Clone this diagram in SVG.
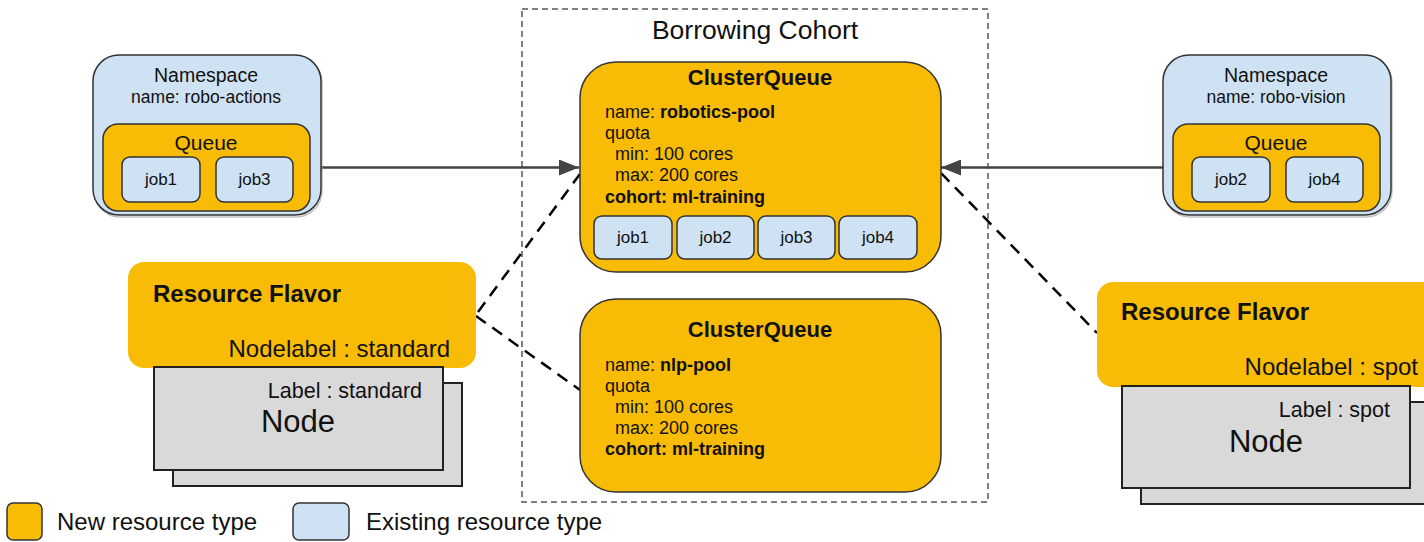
<svg xmlns="http://www.w3.org/2000/svg" width="1424" height="542" viewBox="0 0 1424 542">
  <style>
    text { font-family: "Liberation Sans", Arial, sans-serif; fill: #111; }
    .new { fill: #f9bc06; stroke: #333; stroke-width: 1.5; }
    .flavor { fill: #f9bc06; stroke: none; }
    .old { fill: #cfe2f3; stroke: #333; stroke-width: 1.5; }
    .shadow { fill: none; stroke: #9a9a9a; stroke-width: 1.5; opacity: 0.6; }
    .node { fill: #d9d9d9; stroke: #222; stroke-width: 2; }
    .cohort { fill: none; stroke: #555; stroke-width: 1.5; stroke-dasharray: 6 4; }
    .flow { fill: none; stroke: #434343; stroke-width: 2.5; }
    .link { fill: none; stroke: #000; stroke-width: 2.5; stroke-dasharray: 12 8; }
    .c { text-anchor: middle; }
    .e { text-anchor: end; }
    .b { font-weight: bold; }
    .ns { font-size: 19.5px; }
    .nsn { font-size: 17.5px; }
    .q { font-size: 21px; }
    .job { font-size: 17px; text-anchor: middle; }
    .cqt { font-size: 22px; font-weight: bold; text-anchor: middle; }
    .cq { font-size: 18px; }
    .legend { font-size: 24px; }
  </style>
  <defs>
    <marker id="arrow" markerUnits="userSpaceOnUse" markerWidth="22" markerHeight="16" refX="20" refY="8" orient="auto">
      <path d="M0,0 L20,8 L0,16 Z" fill="#434343"/>
    </marker>
  </defs>

  <!-- cohort boundary -->
  <g id="cohort">
    <rect class="cohort" x="522" y="9" width="466" height="493"/>
    <text class="c" x="755" y="39" font-size="26.5">Borrowing Cohort</text>
  </g>

  <!-- connectors -->
  <g id="connectors">
    <line class="flow" x1="310" y1="167.5" x2="579" y2="167.5" marker-end="url(#arrow)"/>
    <line class="flow" x1="1163" y1="167.5" x2="941" y2="167.5" marker-end="url(#arrow)"/>
    <line class="link" x1="478" y1="312" x2="580" y2="174"/>
    <line class="link" x1="476" y1="316" x2="580" y2="390"/>
    <line class="link" x1="941" y1="173" x2="1097" y2="333"/>
  </g>

  <!-- namespace robo-actions -->
  <g id="ns-robo-actions">
    <rect class="shadow" x="94" y="57" width="228" height="160" rx="26"/>
    <rect class="old" x="93" y="55" width="228" height="160" rx="26"/>
    <text class="c ns" x="206" y="82">Namespace</text>
    <text class="c nsn" x="206" y="103">name: robo-actions</text>
    <rect class="new" x="103" y="124" width="207" height="87" rx="15"/>
    <text class="c q" x="206" y="150">Queue</text>
    <rect class="old" x="122" y="157" width="78" height="45" rx="8"/>
    <text class="job" x="161" y="185">job1</text>
    <rect class="old" x="216" y="157" width="77" height="45" rx="8"/>
    <text class="job" x="254.5" y="185">job3</text>
  </g>

  <!-- namespace robo-vision -->
  <g id="ns-robo-vision">
    <rect class="shadow" x="1164" y="57" width="228" height="160" rx="26"/>
    <rect class="old" x="1163" y="55" width="228" height="160" rx="26"/>
    <text class="c ns" x="1276" y="82">Namespace</text>
    <text class="c nsn" x="1276" y="103">name: robo-vision</text>
    <rect class="new" x="1173" y="124" width="207" height="87" rx="15"/>
    <text class="c q" x="1276" y="150">Queue</text>
    <rect class="old" x="1192" y="157" width="78" height="45" rx="8"/>
    <text class="job" x="1231" y="185">job2</text>
    <rect class="old" x="1286" y="157" width="77" height="45" rx="8"/>
    <text class="job" x="1324.5" y="185">job4</text>
  </g>

  <!-- cluster queue robotics-pool -->
  <g id="cq-robotics-pool">
    <rect class="new" x="580" y="62" width="361" height="210" rx="36"/>
    <text class="cqt" x="760" y="85">ClusterQueue</text>
    <text class="cq" x="605" y="118">name: <tspan class="b">robotics-pool</tspan></text>
    <text class="cq" x="605" y="139">quota</text>
    <text class="cq" x="615" y="160">min: 100 cores</text>
    <text class="cq" x="615" y="181">max: 200 cores</text>
    <text class="cq b" x="605" y="202.5">cohort: ml-training</text>
    <rect class="old" x="594" y="216" width="78" height="43" rx="8"/>
    <text class="job" x="633" y="243">job1</text>
    <rect class="old" x="677" y="216" width="77" height="43" rx="8"/>
    <text class="job" x="715.5" y="243">job2</text>
    <rect class="old" x="758" y="216" width="77" height="43" rx="8"/>
    <text class="job" x="796.5" y="243">job3</text>
    <rect class="old" x="839" y="216" width="78" height="43" rx="8"/>
    <text class="job" x="878" y="243">job4</text>
  </g>

  <!-- cluster queue nlp-pool -->
  <g id="cq-nlp-pool">
    <rect class="new" x="580" y="299" width="361" height="193" rx="36"/>
    <text class="cqt" x="760" y="337">ClusterQueue</text>
    <text class="cq" x="605" y="371">name: <tspan class="b">nlp-pool</tspan></text>
    <text class="cq" x="605" y="392">quota</text>
    <text class="cq" x="615" y="413">min: 100 cores</text>
    <text class="cq" x="615" y="434">max: 200 cores</text>
    <text class="cq b" x="605" y="455">cohort: ml-training</text>
  </g>

  <!-- resource flavor standard with its nodes -->
  <g id="flavor-standard">
    <rect class="flavor" x="128" y="262" width="348" height="106" rx="16"/>
    <text class="b" x="153" y="302" font-size="24">Resource Flavor</text>
    <text class="e" x="450" y="357" font-size="24">Nodelabel : standard</text>
    <rect class="node" x="173" y="383" width="289" height="103"/>
    <rect class="node" x="154" y="367" width="289" height="103"/>
    <text class="e" x="422" y="398" font-size="21.5">Label : standard</text>
    <text class="c" x="298" y="432" font-size="31">Node</text>
  </g>

  <!-- resource flavor spot with its nodes -->
  <g id="flavor-spot">
    <rect class="flavor" x="1097" y="282" width="345" height="105" rx="16"/>
    <text class="b" x="1121" y="320" font-size="24">Resource Flavor</text>
    <text class="e" x="1418" y="375" font-size="24">Nodelabel : spot</text>
    <rect class="node" x="1141" y="402" width="289" height="102"/>
    <rect class="node" x="1122" y="386" width="288" height="102"/>
    <text class="e" x="1390" y="417" font-size="21.5">Label : spot</text>
    <text class="c" x="1266" y="452" font-size="31">Node</text>
  </g>

  <!-- legend -->
  <g id="legend">
    <rect class="new" x="7" y="503" width="35" height="37" rx="6"/>
    <text class="legend" x="57" y="530">New resource type</text>
    <rect class="old" x="293" y="503" width="56" height="37" rx="6"/>
    <text class="legend" x="366" y="530">Existing resource type</text>
  </g>
</svg>
